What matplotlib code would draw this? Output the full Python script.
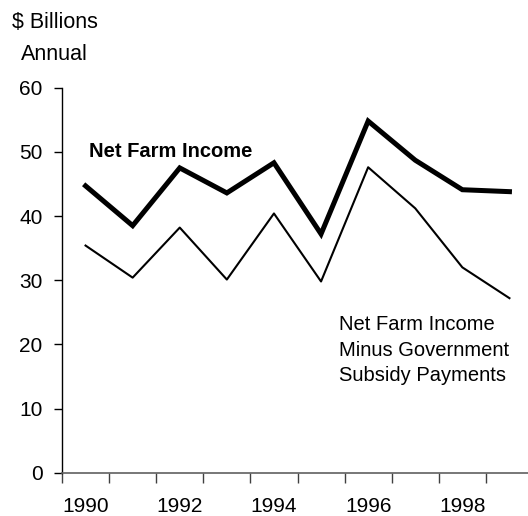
import matplotlib.pyplot as plt
import numpy as np

plt.rcParams['font.family'] = ['Liberation Sans', 'DejaVu Sans']

years = [1990, 1991, 1992, 1993, 1994, 1995, 1996, 1997, 1998, 1999]
net_farm_income = [44.7, 38.5, 47.5, 43.6, 48.3, 37.2, 54.8, 48.7, 44.1, 43.8]
minus_subsidy = [35.4, 30.4, 38.2, 30.1, 40.4, 29.8, 47.6, 41.2, 32.0, 27.2]
yticks = [0, 10, 20, 30, 40, 50, 60]

fig = plt.figure(figsize=(5.28, 5.16), dpi=100)
ax = fig.add_axes([62/528, 1 - 472.7/516, (528 - 62)/528, (472.7 - 87.7)/516])

x = np.arange(len(years))
ax.plot(x, net_farm_income, color='black', lw=3.6, solid_joinstyle='miter')
ax.plot(x, minus_subsidy, color='black', lw=1.5)

ax.set_xlim(-0.5, -0.5 + 466/47.1)
ax.set_ylim(0, 60)
ax.set_yticks(yticks)

# category axis: ticks on boundaries, labels every other year
ax.set_xticks(x[::2])
ax.set_xticklabels([str(y) for y in years[::2]])
ax.set_xticks(np.arange(len(years)) - 0.5, minor=True)
ax.tick_params(axis='x', which='major', length=0, pad=17.5, labelsize=15)
ax.tick_params(axis='x', which='minor', length=7, width=1, color='#404040', direction='out')
ax.tick_params(axis='y', length=6, width=1, direction='out', pad=8, labelsize=15)

for s in ['top', 'right']:
    ax.spines[s].set_visible(False)
ax.spines['bottom'].set_color('#606060')
ax.spines['bottom'].set_linewidth(1.2)
ax.spines['left'].set_linewidth(1)

fig.text(12/528, 1 - 23/516, '$ Billions', fontsize=15.5, va='center', ha='left')
fig.text(21/528, 1 - 54/516, 'Annual', fontsize=15.5, va='center', ha='left')
fig.text(89/528, 1 - 151/516, 'Net Farm Income', fontsize=14.5, fontweight='bold',
         va='center', ha='left')
fig.text(339/528, 1 - 350/516, 'Net Farm Income\nMinus Government\nSubsidy Payments',
         fontsize=14.5, va='center', ha='left', linespacing=1.45)

fig.savefig('out.png', dpi=100)
